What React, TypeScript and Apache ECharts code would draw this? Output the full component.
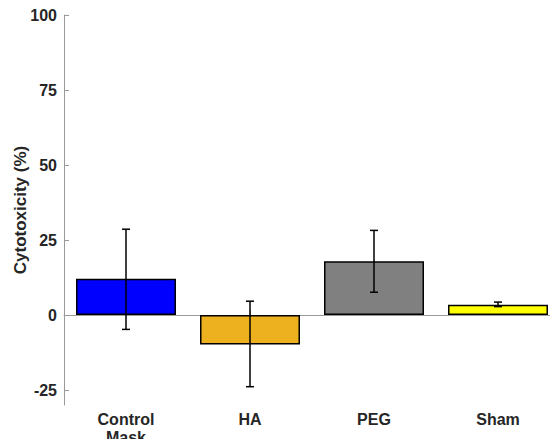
import React, { useEffect, useRef } from "react";
import * as echarts from "echarts";

const categories = ["Control\nMask", "HA", "PEG", "Sham"];
const values = [12.1, -9.8, 17.9, 3.4];
const errLow = [-4.8, -23.9, 7.6, 2.8];
const errHigh = [28.6, 4.6, 28.2, 4.3];
const barColors = ["#0000FF", "#EDB120", "#808080", "#FFFF00"];
const yTicks = [-25, 0, 25, 50, 75, 100];

export default function App() {
  const ref = useRef<HTMLDivElement>(null);
  useEffect(() => {
    const chart = echarts.init(ref.current!, null, { renderer: "svg" });
    const font = "'Liberation Sans', Arial, Helvetica, sans-serif";
    chart.setOption({
      animation: false,
      grid: { left: 64, right: -2, top: 15, bottom: 42, outerBoundsMode: "none", containLabel: false },
      xAxis: {
        type: "category",
        data: categories,
        axisLine: { show: true, lineStyle: { color: "#9a9a9a", width: 1 } },
        axisTick: { show: true, inside: true, alignWithLabel: true, length: 5, lineStyle: { color: "#9a9a9a" } },
        axisLabel: {
          color: "#262626",
          fontWeight: "bold",
          fontSize: 16,
          fontFamily: font,
          margin: 5,
          lineHeight: 18,
        },
      },
      yAxis: {
        type: "value",
        min: -30,
        max: 100,
        splitLine: { show: false },
        axisLine: { show: true, lineStyle: { color: "#9a9a9a", width: 1 } },
        axisTick: { show: true, inside: true, length: 5, customValues: yTicks, lineStyle: { color: "#9a9a9a" } },
        axisLabel: {
          customValues: yTicks,
          color: "#262626",
          fontWeight: "bold",
          fontSize: 16,
          fontFamily: font,
          margin: 7,
        },
        name: "Cytotoxicity (%)",
        nameLocation: "middle",
        nameGap: 35,
        nameMoveOverlap: false,
        nameTextStyle: {
          color: "#262626",
          fontWeight: "bold",
          fontSize: 17,
          fontFamily: font,
        },
      },
      series: [
        {
          type: "bar",
          barWidth: 100,
          data: values.map((v, i) => ({
            value: v,
            itemStyle: { color: barColors[i], borderColor: "#000", borderWidth: 1.5 },
          })),
          markLine: {
            silent: true,
            symbol: "none",
            label: { show: false },
            lineStyle: { color: "#9a9a9a", width: 1, type: "solid" },
            data: [{ yAxis: 0 }],
            z: 1,
          },
          z: 2,
        },
        {
          type: "custom",
          z: 5,
          data: values.map((_, i) => [i, errLow[i], errHigh[i]]),
          renderItem: (params: any, api: any) => {
            const x = api.coord([api.value(0), 0])[0];
            const yl = api.coord([api.value(0), api.value(1)])[1];
            const yh = api.coord([api.value(0), api.value(2)])[1];
            const w = 4;
            const style = { stroke: "#000", lineWidth: 1.5 };
            return {
              type: "group",
              children: [
                { type: "line", shape: { x1: x, y1: yl, x2: x, y2: yh }, style },
                { type: "line", shape: { x1: x - w, y1: yl, x2: x + w, y2: yl }, style },
                { type: "line", shape: { x1: x - w, y1: yh, x2: x + w, y2: yh }, style },
              ],
            };
          },
        },
      ],
    });
    return () => chart.dispose();
  }, []);
  return <div ref={ref} style={{ width: 558, height: 447, margin: -8 }} />;
}
